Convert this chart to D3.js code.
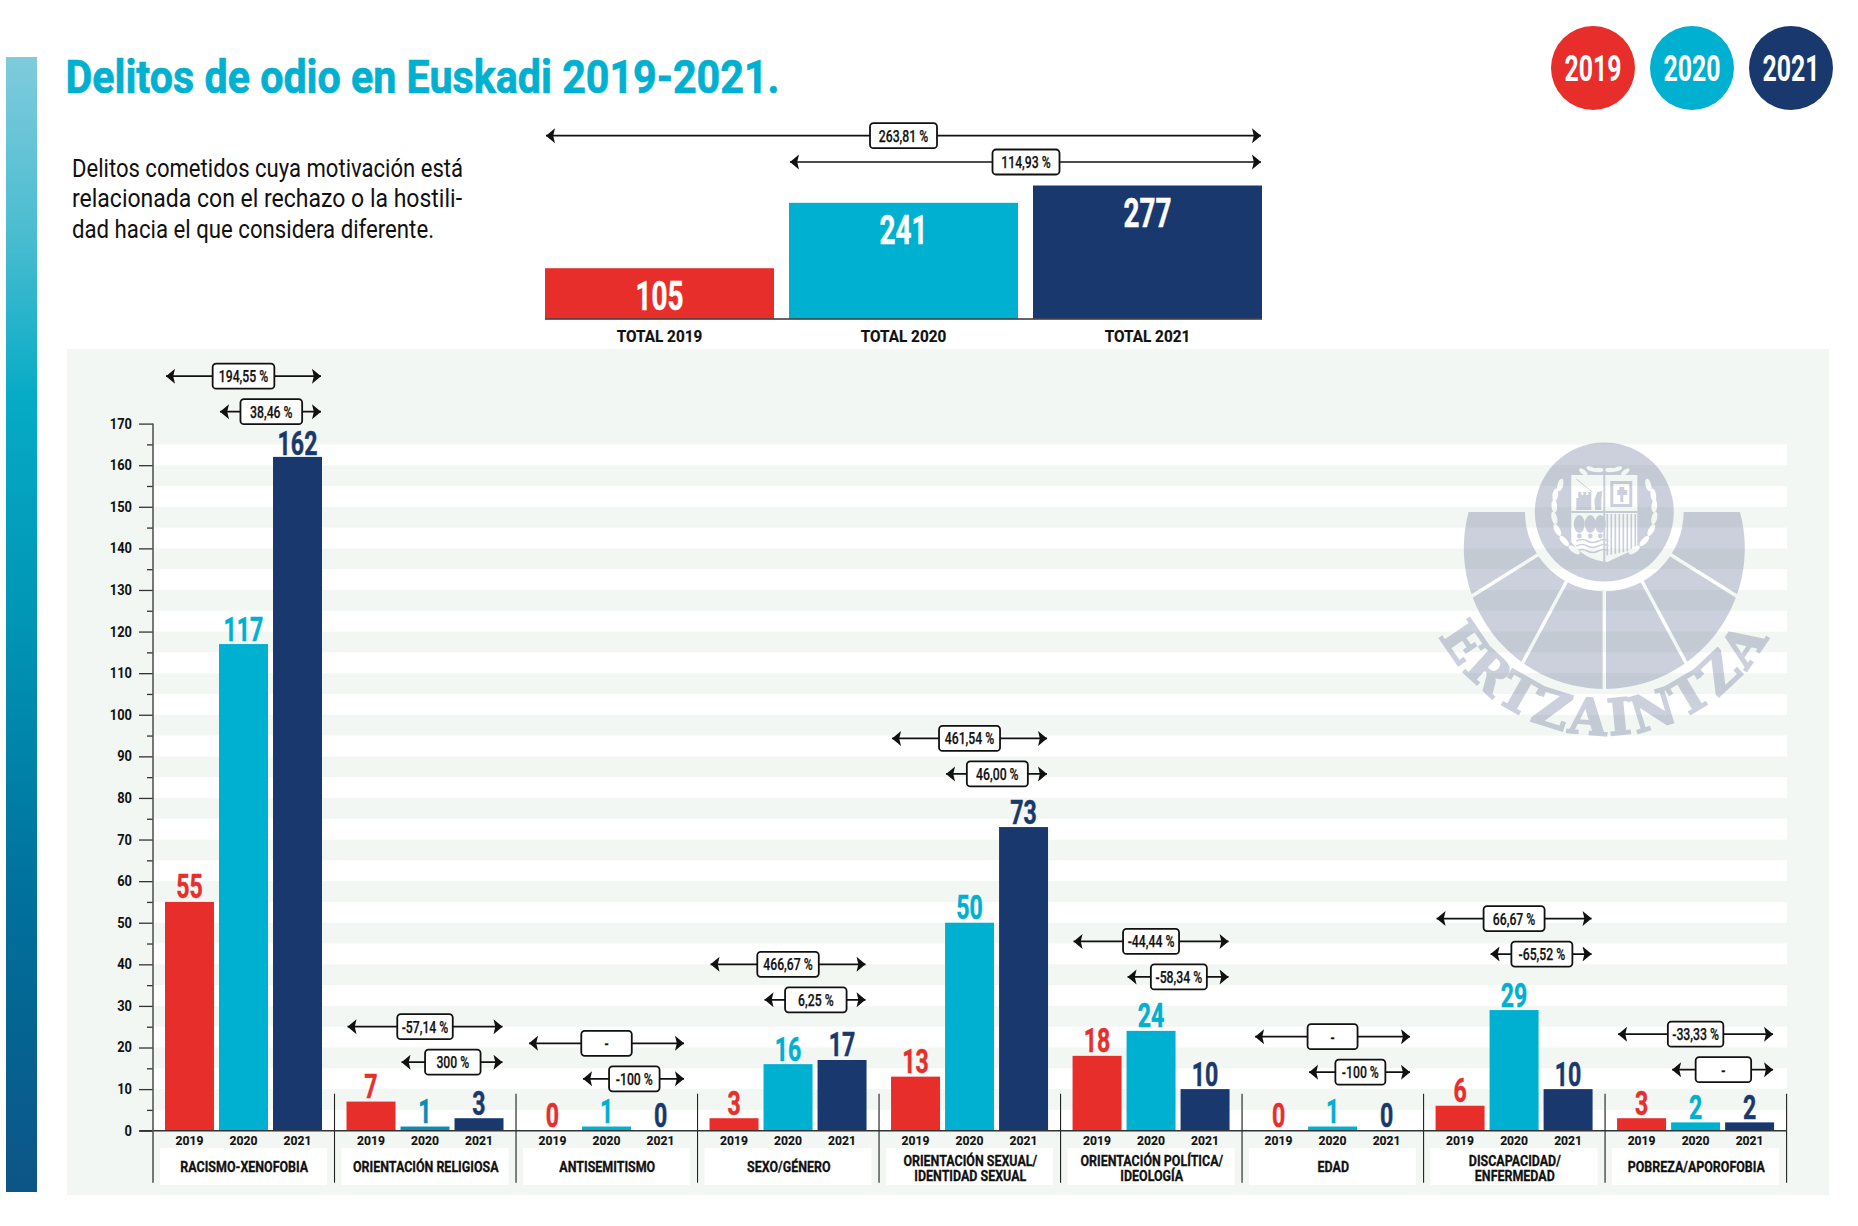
<!DOCTYPE html>
<html lang="es"><head><meta charset="utf-8"><title>Delitos de odio en Euskadi 2019-2021</title>
<script src="https://cdnjs.cloudflare.com/ajax/libs/d3/7.8.5/d3.min.js"></script>
<style>html,body{margin:0;padding:0;background:#fff}svg{display:block}text{font-family:Roboto,"Liberation Sans",sans-serif}</style>
</head><body><div id="chart"></div>
<script>
// ---- data ----
const years = ["2019","2020","2021"];
const categories = ["RACISMO-XENOFOBIA","ORIENTACIÓN RELIGIOSA","ANTISEMITISMO","SEXO/GÉNERO","ORIENTACIÓN SEXUAL/|IDENTIDAD SEXUAL","ORIENTACIÓN POLÍTICA/|IDEOLOGÍA","EDAD","DISCAPACIDAD/|ENFERMEDAD","POBREZA/APOROFOBIA"];
const values2019 = [55,7,0,3,13,18,0,6,3];
const values2020 = [117,1,1,16,50,24,1,29,2];
const values2021 = [162,3,0,17,73,10,0,10,2];
const change2019to2021 = ["194,55 %","-57,14 %","-","466,67 %","461,54 %","-44,44 %","-","66,67 %","-33,33 %"];
const change2020to2021 = ["38,46 %","300 %","-100 %","6,25 %","46,00 %","-58,34 %","-100 %","-65,52 %","-"];
const totals = [105,241,277];
const totalLabels = ["TOTAL 2019","TOTAL 2020","TOTAL 2021"];
const totalChanges = ["263,81 %","114,93 %"];
const descriptionLines = ["Delitos cometidos cuya motivación está","relacionada con el rechazo o la hostili-","dad hacia el que considera diferente."];
const titleText = "Delitos de odio en Euskadi 2019-2021.";

// ---- layout (not data) ----
const bracketLevels = [181.4,25,21,40,94.3,45.5,22.6,51,23.2]; // height of the upper bracket, in axis units
const bracketWidths = [61.7,55.5,50.5,61.5,61,56,50,61,55.5];
const RED="#e82e2b", TEAL="#00b0d0", NAVY="#19396e", INK="#111";
const colors=[RED,TEAL,NAVY];

const svg=d3.select("#chart").append("svg").attr("width",1858).attr("height",1226).attr("viewBox","0 0 1858 1226");
const defs=svg.append("defs");
const fit=(sel,k)=>sel.each(function(){this.setAttribute("textLength",this.getComputedTextLength()*k);this.setAttribute("lengthAdjust","spacingAndGlyphs");});

// arrow head
defs.append("marker").attr("id","head").attr("viewBox","-11 -9 12 18").attr("refX",0).attr("refY",0)
 .attr("markerWidth",12).attr("markerHeight",18).attr("markerUnits","userSpaceOnUse").attr("orient","auto-start-reverse")
 .append("path").attr("d","M0,0 L-9,-7.5 L-7.2,0 L-9,7.5 Z").attr("fill",INK);

// side gradient
const g=defs.append("linearGradient").attr("id","side").attr("x1",0).attr("x2",0).attr("y1",0).attr("y2",1);
[[0,"#7fcbdc"],[0.15,"#4dbdd1"],[0.3,"#06abc6"],[0.5,"#0095b4"],[0.75,"#006f9b"],[1,"#0c5586"]].forEach(s=>g.append("stop").attr("offset",s[0]).attr("stop-color",s[1]));
svg.append("rect").attr("x",6).attr("y",57).attr("width",31).attr("height",1135).attr("fill","url(#side)");

// title + text
svg.append("text").attr("x",65.5).attr("y",93).attr("font-size",47).attr("font-weight",700).attr("fill",TEAL).attr("stroke",TEAL).attr("stroke-width",0.7).attr("textLength",714).attr("lengthAdjust","spacingAndGlyphs").text(titleText);
const descWidths=[391,390,362];
svg.selectAll("text.desc").data(descriptionLines).join("text").attr("class","desc").attr("x",72)
 .attr("y",(d,i)=>176.7+i*30.5).attr("font-size",26.5).attr("font-weight",400).attr("fill","#111")
 .attr("textLength",(d,i)=>descWidths[i]).attr("lengthAdjust","spacingAndGlyphs").text(d=>d);

// legend
const legendX=d3.scalePoint().domain(years).range([1593,1791]);
const leg=svg.selectAll("g.leg").data(years).join("g").attr("class","leg").attr("transform",d=>`translate(${legendX(d)},68)`);
leg.append("circle").attr("r",42).attr("fill",(d,i)=>colors[i]);
leg.append("text").attr("text-anchor","middle").attr("y",12.5).attr("font-size",36).attr("font-weight",700).attr("fill","#fff").text(d=>d).call(fit,0.69);

// bracket helper
function bracket(parent,x0,x1,yy,cx,w,label){
  const b=parent.append("g");
  b.append("line").attr("x1",x0+1).attr("x2",x1-1).attr("y1",yy).attr("y2",yy).attr("stroke",INK).attr("stroke-width",1.7)
   .attr("marker-start","url(#head)").attr("marker-end","url(#head)");
  b.append("rect").attr("x",cx-w/2).attr("y",yy-12.5).attr("width",w).attr("height",25).attr("rx",3.5).attr("fill","#fff").attr("stroke",INK).attr("stroke-width",1.8);
  b.append("text").attr("x",cx).attr("y",yy+6).attr("text-anchor","middle").attr("font-size",16.5).attr("font-weight",500).attr("fill",INK).attr("stroke",INK).attr("stroke-width",0.25).text(label).call(fit,0.74);
}

// top totals
const tx=d3.scaleBand().domain(totalLabels).range([545,1262]).paddingInner(0.0615);
const ty=d3.scaleLinear().domain([0,277]).range([318.7,185.5]);
const tg=svg.append("g");
tg.selectAll("rect").data(totals).join("rect").attr("x",(d,i)=>tx(totalLabels[i])).attr("width",tx.bandwidth())
 .attr("y",d=>ty(d)).attr("height",d=>ty(0)-ty(d)).attr("fill",(d,i)=>colors[i]);
tg.selectAll("text.v").data(totals).join("text").attr("class","v").attr("x",(d,i)=>tx(totalLabels[i])+tx.bandwidth()/2)
 .attr("y",d=>ty(d)+41.5).attr("text-anchor","middle").attr("font-size",41).attr("font-weight",700).attr("fill","#fff").attr("stroke","#fff").attr("stroke-width",0.5).text(d=>d).call(fit,0.68);
tg.selectAll("text.l").data(totalLabels).join("text").attr("class","l").attr("x",d=>tx(d)+tx.bandwidth()/2).attr("y",341.5)
 .attr("text-anchor","middle").attr("font-size",17).attr("font-weight",700).attr("fill",INK).attr("stroke",INK).attr("stroke-width",0.2).text(d=>d).call(fit,0.9);
tg.append("line").attr("x1",545).attr("x2",1262).attr("y1",319).attr("y2",319).attr("stroke","#333").attr("stroke-width",1.5);
const right=tx.range()[1];
bracket(svg,tx(totalLabels[0]),right,135.7,903.5,67,totalChanges[0]);
bracket(svg,tx(totalLabels[1]),right,162,1026,67,totalChanges[1]);

// panel
svg.append("rect").attr("x",67).attr("y",349).attr("width",1762).attr("height",846).attr("fill","#f3f7f4");

// scales
const y=d3.scaleLinear().domain([0,170]).range([1130.7,423.6]);
const x=d3.scaleBand().domain(categories).range([153,1786.6]);
const inner=d3.scaleBand().domain(years).range([12,169]).paddingInner(0.093);

// stripes
svg.append("g").selectAll("rect").data(d3.range(0,170,10)).join("rect")
 .attr("x",153).attr("width",1634).attr("y",d=>y(d+5)).attr("height",d=>y(d)-y(d+5)).attr("fill","#fff");

// watermark logo
(function(){
 const cx=1604.3, cy=512;
 const m=defs.append("mask").attr("id","logoMask").attr("maskUnits","userSpaceOnUse").attr("x",0).attr("y",0).attr("width",1858).attr("height",1226)
   .append("g").attr("transform",`translate(${cx},${cy})`);
 m.append("path").attr("d","M-135.7,0 A140.5,140.5 0 1 0 135.7,0 Z").attr("fill","#fff");
 m.append("circle").attr("r",79.3).attr("fill","#000");
 [[-132.7,84.3,-62,40],[-81.7,151,-36,66],[0,180,0,70],[81.7,151,36,66],[132.7,84.3,62,40]].forEach(l=>
   m.append("line").attr("x1",l[0]).attr("y1",l[1]).attr("x2",l[2]).attr("y2",l[3]).attr("stroke","#000").attr("stroke-width",3.4));
 m.append("circle").attr("r",69.5).attr("fill","#fff");
 // shield cut-outs
 m.append("path").attr("d","M-33,-37 H33 V36 L3,50 Q-20,48 -33,30 Z").attr("fill","#000");
 m.append("path").attr("d","M-33,-1 H33 V1 H-33 Z M-1,-37 H1 V50 H-1 Z M-1,-37").attr("fill","#fff");
 // first quarter: castle and lion
 m.append("path").attr("d","M-28,-2 V-14 H-26 V-20 H-23 V-17 H-21 V-20 H-18 V-17 H-16 V-20 H-13 V-2 Z").attr("fill","#fff");
 m.append("path").attr("d","M-9,-2 L-10,-12 L-7,-20 L-2,-21 L-3,-12 L-3,-2 Z").attr("fill","#fff");
 m.append("line").attr("x1",-28).attr("y1",-33).attr("x2",-12).attr("y2",-20).attr("stroke","#fff").attr("stroke-width",1);
 // second quarter: framed cross
 m.append("path").attr("d","M6,-31 H28 V-5 H6 Z M9,-28 V-8 H25 V-28 Z").attr("fill","#fff").attr("fill-rule","evenodd");
 m.append("path").attr("d","M13,-22 H15 V-25 H20 V-22 H23 V-17 H19 V-10 H16 V-17 H13 Z").attr("fill","#fff");
 // third quarter: trees and waves
 [-25,-14,-4].forEach(t=>{m.append("ellipse").attr("cx",t).attr("cy",12).attr("rx",5.5).attr("ry",9).attr("fill","#fff");
   m.append("circle").attr("cx",t).attr("cy",24).attr("r",2.4).attr("fill","#fff");});
 [29,34,39].forEach(w=>m.append("path").attr("d",`M-28,${w} q6,-3 11,0 t11,0 t10,0`).attr("fill","none").attr("stroke","#fff").attr("stroke-width",1.6));
 // fourth quarter: bars
 d3.range(3,33,4).forEach(b=>m.append("line").attr("x1",b).attr("x2",b).attr("y1",2).attr("y2",44-b*0.2).attr("stroke","#fff").attr("stroke-width",1.7));
 // laurels
 [-1,1].forEach(s=>{
  [[44,-27,-15],[49,-17,-8],[50,-6,4],[50,6,14],[47,18,28],[40,29,42],[30,38,55]].forEach(a=>
   m.append("ellipse").attr("cx",s*a[0]).attr("cy",a[1]).attr("rx",2.8).attr("ry",6.5).attr("transform",`rotate(${s*a[2]},${s*a[0]},${a[1]})`).attr("fill","#000"));
  [[13,-43,70],[21,-40,50],[6,-42,90]].forEach(a=>
   m.append("ellipse").attr("cx",s*a[0]).attr("cy",a[1]).attr("rx",2.2).attr("ry",5).attr("transform",`rotate(${s*a[2]},${s*a[0]},${a[1]})`).attr("fill","#000"));
 });
 const logo=svg.append("g").attr("opacity",0.22);
 logo.append("rect").attr("x",1440).attr("y",430).attr("width",330).attr("height",265).attr("fill","rgb(28,47,100)").attr("mask","url(#logoMask)");
 const R=187, cyy=cy+36, a=10*Math.PI/180;
 defs.append("path").attr("id","logoArc").attr("d",`M${cx-R*Math.cos(a)},${cyy+R*Math.sin(a)} A${R},${R} 0 0 0 ${cx+R*Math.cos(a)},${cyy+R*Math.sin(a)}`);
 logo.append("text").attr("font-size",50).attr("font-weight",700).attr("fill","rgb(28,47,100)").attr("stroke","rgb(28,47,100)").attr("stroke-width",1.8).style("font-family","'DejaVu Serif',serif").attr("letter-spacing",3.2)
  .append("textPath").attr("href","#logoArc").attr("startOffset","50%").attr("text-anchor","middle").text("ERTZAINTZA");
})();

// bars
const series=[values2019,values2020,values2021];
const rows=categories.map((c,i)=>({c,i,vals:years.map((yr,j)=>({yr,j,v:series[j][i]}))}));
const groups=svg.selectAll("g.grp").data(rows).join("g").attr("class","grp").attr("transform",d=>`translate(${x(d.c)},0)`);
const barFill=(d,i,n)=>(n[i].parentNode.__data__.i===1&&d.j===1)?"#0a8db4":colors[d.j];
groups.selectAll("rect.b").data(d=>d.vals).join("rect").attr("class","b").attr("x",d=>inner(d.yr)).attr("width",inner.bandwidth())
 .attr("y",d=>y(d.v)).attr("height",d=>y(0)-y(d.v)).attr("fill",barFill);
groups.selectAll("text.v").data(d=>d.vals).join("text").attr("class","v").attr("x",d=>inner(d.yr)+inner.bandwidth()/2)
 .attr("y",d=>d.v===0?y(0)-4:y(d.v)-(d.v>150?1.5:3.5)).attr("text-anchor","middle").attr("font-size",34).attr("font-weight",700)
 .attr("fill",barFill).attr("stroke",barFill).attr("stroke-width",0.5).text(d=>d.v).call(fit,0.68);
groups.selectAll("text.yr").data(d=>d.vals).join("text").attr("class","yr").attr("x",d=>inner(d.yr)+inner.bandwidth()/2).attr("y",1145)
 .attr("text-anchor","middle").attr("font-size",13.5).attr("font-weight",700).attr("fill",INK).attr("stroke",INK).attr("stroke-width",0.15).text(d=>d.yr).call(fit,0.9);
// category boxes
groups.append("rect").attr("x",7).attr("width",167).attr("y",1148).attr("height",37).attr("fill","#fff");
groups.each(function(d){
  const lines=d.c.split("|"), sel=d3.select(this);
  lines.forEach((t,k)=>{
    sel.append("text").attr("x",x.bandwidth()/2+0.5).attr("y",lines.length===1?1172.3:1166.3+k*15)
     .attr("text-anchor","middle").attr("font-size",15).attr("font-weight",700).attr("fill",INK).attr("stroke",INK).attr("stroke-width",0.3).text(t).call(fit,0.83);
  });
});
// dividers
svg.append("g").selectAll("line").data(categories.slice(1).concat("end")).join("line")
 .attr("x1",(d,i)=>x.range()[0]+x.step()*(i+1)).attr("x2",(d,i)=>x.range()[0]+x.step()*(i+1))
 .attr("y1",y(8.9)).attr("y2",1182.7).attr("stroke",(d,i)=>i%2?"#555":"#222").attr("stroke-width",(d,i)=>i%2?1.5:1.1);
// baseline
svg.append("line").attr("x1",139.3).attr("x2",1786.6).attr("y1",y(0)).attr("y2",y(0)).attr("stroke","#333").attr("stroke-width",1.5);

// y axis
const axis=svg.append("g").attr("transform","translate(153,0)")
  .call(d3.axisLeft(y).tickValues(d3.range(0,171,5)).tickFormat(d=>d%10?"":d).tickSize(0).tickPadding(21));
axis.select(".domain").remove();
axis.selectAll(".tick line").attr("x2",d=>d%10?-6:-14).attr("stroke","#333").attr("stroke-width",1.3);
axis.selectAll(".tick text").attr("font-size",14).attr("font-family","Roboto").attr("font-weight",700).attr("fill",INK).call(fit,0.92);
svg.append("line").attr("x1",153).attr("x2",153).attr("y1",y(170)).attr("y2",1182.7).attr("stroke","#555").attr("stroke-width",1.6);

// brackets
rows.forEach(d=>{
  const x0=x(d.c), top=y(bracketLevels[d.i]);
  const l19=x0+inner(years[0]), l20=x0+inner(years[1]), r21=x0+inner(years[2])+inner.bandwidth();
  bracket(svg,l19,r21,top,(l19+r21)/2,bracketWidths[d.i],change2019to2021[d.i]);
  bracket(svg,l20,r21,top+35.5,(l20+r21)/2+0.8,bracketWidths[d.i],change2020to2021[d.i]);
});
</script></body></html>
